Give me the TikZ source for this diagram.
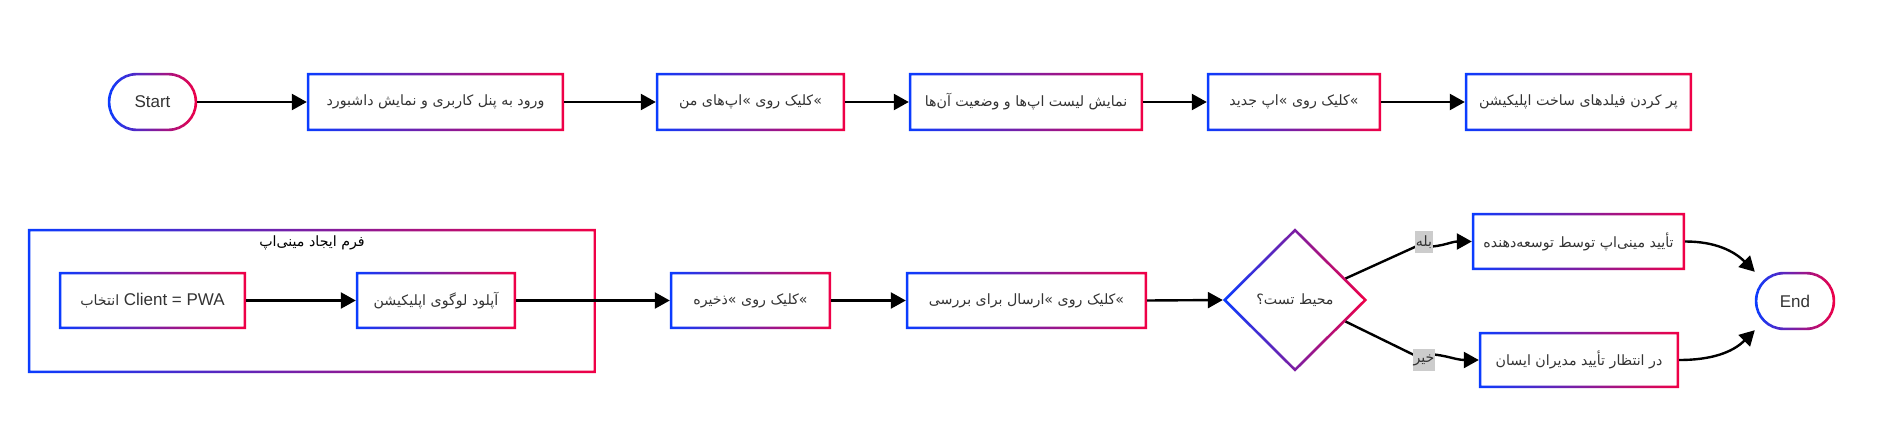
\documentclass[tikz,border=0pt]{standalone}
\usepackage{fontspec}
\setmainfont{Liberation Sans}
\newfontfamily\fa[Script=Arabic]{DejaVu Sans}
\TeXXeTstate=1
\usetikzlibrary{arrows.meta,shapes.geometric,calc}
\definecolor{gblue}{RGB}{10,60,255}
\definecolor{gred}{RGB}{240,0,70}
\definecolor{txt}{RGB}{51,51,51}
\definecolor{labgray}{RGB}{204,204,204}
\newcommand{\gbox}[1]{%
  \shade[left color=gblue,right color=gred,even odd rule]
    (#1.south west) rectangle (#1.north east)
    ([xshift=2.6pt,yshift=2.6pt]#1.south west) rectangle ([xshift=-2.6pt,yshift=-2.6pt]#1.north east);}
\newcommand{\gstad}[1]{%
  \shade[left color=gblue,right color=gred,even odd rule]
    [rounded corners=28.9pt] (#1.south west) rectangle (#1.north east)
    [rounded corners=26.3pt] ([xshift=2.6pt,yshift=2.6pt]#1.south west) rectangle ([xshift=-2.6pt,yshift=-2.6pt]#1.north east);}
\newcommand{\gdia}[1]{%
  \shade[left color=gblue,right color=gred,even odd rule]
    (#1.north) -- (#1.east) -- (#1.south) -- (#1.west) -- cycle
    ([yshift=-3.7pt]#1.north) -- ([xshift=-3.7pt]#1.east) -- ([yshift=3.7pt]#1.south) -- ([xshift=3.7pt]#1.west) -- cycle;}
\tikzset{
  box/.style={rectangle, inner sep=0pt, text=txt, font=\fontsize{14.2}{17}\selectfont},
  latin/.style={font=\fontsize{17}{20}\selectfont},
  arr/.style={line width=2.4pt, -{Triangle[length=15pt,width=16pt]}},
  lab/.style={fill=labgray, inner xsep=0.5pt, inner ysep=5pt, text=txt, font=\fontsize{14.2}{17}\selectfont},
}
\begin{document}
\begin{tikzpicture}[x=1pt,y=-1pt]
\fill[white] (0,0) rectangle (1891,444);
\useasboundingbox (0,0) rectangle (1891,444);

% row 1
\node[box, latin, minimum width=89pt, minimum height=58pt] (start) at (152.5,102) {Start};
\node[box, minimum width=257pt, minimum height=58pt] (b1) at (435.5,102) {\fa\beginR ورود به پنل کاربری و نمایش داشبورد\endR};
\node[box, minimum width=189pt, minimum height=58pt] (b2) at (750.5,102) {\fa\beginR کلیک روی »\kern0pt اپ‌های من\endR{}»};
\node[box, minimum width=234pt, minimum height=58pt] (b3) at (1026,102) {\fa\beginR نمایش لیست اپ‌ها و وضعیت آن‌ها\endR};
\node[box, minimum width=174pt, minimum height=58pt] (b4) at (1294,102) {\fa\beginR کلیک روی »\kern0pt اپ جدید\endR{}»};
\node[box, minimum width=227pt, minimum height=58pt] (b5) at (1578.5,102) {\fa\beginR پر کردن فیلدهای ساخت اپلیکیشن\endR};

% row 2
\node[box, minimum width=568pt, minimum height=144pt] (grp) at (312,301) {};
\node[text=black, font=\fontsize{14.2}{17}\selectfont] (gtitle) at (312,243) {\fa\beginR فرم ایجاد مینی‌اپ\endR};
\node[box, minimum width=187pt, minimum height=57pt] (client) at (152.5,300.5) {\fa\beginR انتخاب\endR\ \fontsize{17}{20}\selectfont\rmfamily Client = PWA};
\node[box, minimum width=160pt, minimum height=57pt] (logo) at (436,300.5) {\fa\beginR آپلود لوگوی اپلیکیشن\endR};
\node[box, minimum width=161pt, minimum height=57pt] (save) at (750.5,300.5) {\fa\beginR کلیک روی »\kern0pt ذخیره\endR{}»};
\node[box, minimum width=241pt, minimum height=57pt] (send) at (1026.5,300.5) {\fa\beginR کلیک روی »\kern0pt ارسال برای بررسی\endR{}»};
\node[box, diamond, aspect=1, minimum width=144pt, minimum height=143pt] (dia) at (1295,300) {\fa\beginR محیط تست؟\endR};
\node[box, minimum width=213pt, minimum height=57pt] (approve) at (1578.5,241.5) {\fa\beginR تأیید مینی‌اپ توسط توسعه‌دهنده\endR};
\node[box, minimum width=200pt, minimum height=56pt] (wait) at (1579,360) {\fa\beginR در انتظار تأیید مدیران ایسان\endR};
\node[box, latin, minimum width=80pt, minimum height=58pt] (endn) at (1795,301) {End};

% gradient borders
\gstad{start}\gbox{b1}\gbox{b2}\gbox{b3}\gbox{b4}\gbox{b5}
\gbox{grp}\gbox{client}\gbox{logo}\gbox{save}\gbox{send}
\gdia{dia}\gbox{approve}\gbox{wait}\gstad{endn}

% connectors
\draw[arr] (start.east) -- (b1.west);
\draw[arr] (b1.east) -- (b2.west);
\draw[arr] (b2.east) -- (b3.west);
\draw[arr] (b3.east) -- (b4.west);
\draw[arr] (b4.east) -- (b5.west);
\draw[arr] (client.east) -- (logo.west);
\draw[arr] (logo.east) -- (save.west);
\draw[arr] (save.east) -- (send.west);
\draw[arr] (send.east) -- (dia.west);

\coordinate (dyes) at ($(dia.north)!0.7!(dia.east)$);
\coordinate (dno) at ($(dia.south)!0.7!(dia.east)$);
\coordinate (yb) at (1417,246);
\coordinate (nb) at (1414,355);
\draw[arr] (dyes) -- (yb) to[out=-8,in=180] (approve.west);
\draw[arr] (dno) -- (nb) to[out=8,in=180] (wait.west);
\node[lab] (lyes) at (1424,242) {\fa\beginR بله\endR};
\node[lab] (lno) at (1424,360) {\fa\beginR خیر\endR};

\draw[arr] (approve.east) to[out=0,in=135] (endn.north west);
\draw[arr] (wait.east) to[out=0,in=-135] (endn.south west);
\end{tikzpicture}
\end{document}
